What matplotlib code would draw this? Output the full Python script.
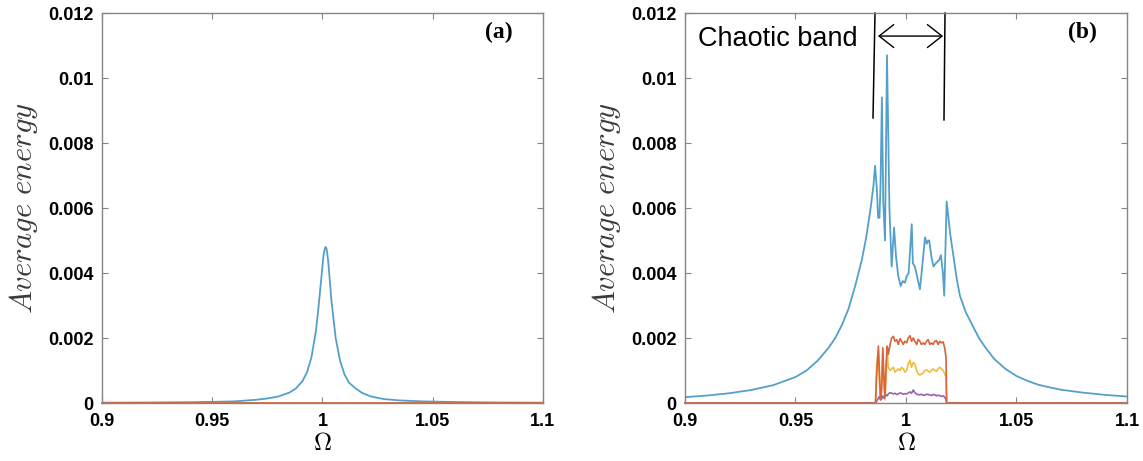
import matplotlib
matplotlib.use('Agg')
import matplotlib.pyplot as plt

plt.rcParams['mathtext.fontset'] = 'cm'
plt.rcParams['font.family'] = ['Liberation Sans', 'DejaVu Sans']

# ---- (a) below the chaotic threshold: single resonance peak ----
om_a = [0.90, 0.92, 0.94, 0.95, 0.96, 0.97, 0.975, 0.98, 0.985, 0.988, 0.991,
        0.993, 0.995, 0.997, 0.998, 0.999, 1.000, 1.0005, 1.001, 1.0014, 1.0018,
        1.0022, 1.0027, 1.0033, 1.004, 1.005, 1.006, 1.008, 1.010, 1.012, 1.015,
        1.018, 1.022, 1.028, 1.035, 1.045, 1.06, 1.08, 1.10]
en_a = [0.00001, 0.000015, 0.000025, 0.000035, 0.00005, 0.0001, 0.00014, 0.0002,
        0.00032, 0.00045, 0.00068, 0.00095, 0.0014, 0.0022, 0.0028, 0.0035,
        0.0042, 0.00455, 0.00473, 0.0048, 0.00476, 0.0046, 0.0043, 0.0038,
        0.0032, 0.0026, 0.002, 0.0013, 0.00088, 0.00063, 0.00045, 0.00031,
        0.0002, 0.00012, 0.00008, 0.00005, 0.00003, 0.000015, 0.00001]
om_a_zero = [0.9, 1.1]
en_a_zero = [0, 0]

# ---- (b) above threshold: blue mode plus three modes inside the band ----
om_b = [0.90, 0.91, 0.92, 0.93, 0.94, 0.95, 0.955, 0.96, 0.965, 0.968, 0.971,
        0.974, 0.977, 0.980, 0.982, 0.984, 0.9853, 0.9860, 0.9868, 0.9874,
        0.9880, 0.9885, 0.9891, 0.9897, 0.9905, 0.9914, 0.9925, 0.9935, 0.9946,
        0.9955, 0.9965, 0.9976, 0.9985, 0.9995, 1.0003, 1.0012, 1.0026, 1.0031,
        1.0040, 1.0050, 1.0063, 1.0075, 1.0086, 1.0094, 1.0100, 1.0105, 1.0115,
        1.0124, 1.0135, 1.0150, 1.0158, 1.0167, 1.0173, 1.0184, 1.0192, 1.0200,
        1.0213, 1.023, 1.0244, 1.027, 1.030, 1.033, 1.036, 1.040, 1.045, 1.050,
        1.055, 1.060, 1.065, 1.070, 1.080, 1.090, 1.100]
en_b = [0.00018, 0.00023, 0.0003, 0.0004, 0.00055, 0.0008, 0.001, 0.0013,
        0.0017, 0.002, 0.0024, 0.0029, 0.0036, 0.0044, 0.0051, 0.006, 0.0067,
        0.0073, 0.0066, 0.0057, 0.0057, 0.0068, 0.0094, 0.0062, 0.0050, 0.0107,
        0.0060, 0.0042, 0.0054, 0.0045, 0.0039, 0.0036, 0.00375, 0.0037, 0.0039,
        0.0040, 0.0055, 0.0043, 0.0042, 0.0039, 0.0035, 0.0043, 0.0051, 0.0049,
        0.0050, 0.0050, 0.0045, 0.0042, 0.0043, 0.0044, 0.00455, 0.0040, 0.0033,
        0.0062, 0.0057, 0.0052, 0.0046, 0.0038, 0.0033, 0.0028, 0.0024, 0.0020,
        0.0017, 0.00135, 0.00105, 0.00083, 0.00068, 0.00056, 0.00048, 0.00041,
        0.00032, 0.00025, 0.0002]

om_band = [0.9, 0.9862, 0.9867, 0.9875, 0.9880, 0.9885, 0.9890, 0.9895, 0.9900,
           0.9905, 0.9910, 0.9915, 0.9920, 0.9928, 0.9935, 0.9943, 0.9950, 0.9958,
           0.9965, 0.9973, 0.9980, 0.9988, 0.9995, 1.0003, 1.0010, 1.0018, 1.0025,
           1.0033, 1.0040, 1.0048, 1.0055, 1.0063, 1.0070, 1.0078, 1.0085, 1.0093,
           1.0100, 1.0108, 1.0115, 1.0123, 1.0130, 1.0138, 1.0145, 1.0153, 1.0160,
           1.0168, 1.0175, 1.0181, 1.0184, 1.1]
en_red = [0, 0, 0.0008, 0.00175, 0.0009, 0.0001, 0.0004, 0.0017, 0.0008, 0.0002,
          0.0012, 0.00175, 0.0015, 0.0018, 0.0020, 0.00205, 0.0019, 0.00195,
          0.0018, 0.00198, 0.0019, 0.0018, 0.0019, 0.00185, 0.0020, 0.00207,
          0.0019, 0.0020, 0.0019, 0.0018, 0.00196, 0.0019, 0.0018, 0.00185,
          0.0018, 0.0019, 0.00195, 0.0018, 0.00185, 0.0018, 0.0019, 0.00192,
          0.0018, 0.0019, 0.00185, 0.00188, 0.0017, 0.0014, 0, 0]
en_yel = [0, 0, 0.0012, 0.0016, 0.0006, 0.0001, 0.0008, 0.0016, 0.0005, 0.0001,
          0.0009, 0.0016, 0.0011, 0.0010, 0.00105, 0.0011, 0.00095, 0.0010,
          0.00105, 0.0010, 0.0011, 0.00105, 0.00095, 0.0010, 0.0012, 0.00132,
          0.0011, 0.00125, 0.0012, 0.0010, 0.0009, 0.00086, 0.0009, 0.00092,
          0.0010, 0.00102, 0.00098, 0.00095, 0.0010, 0.00105, 0.0010, 0.00098,
          0.00105, 0.0011, 0.00105, 0.0010, 0.0009, 0.0008, 0, 0]
en_pur = [0, 0, 0.00005, 0.00015, 0.0002, 0.0001, 0.00012, 0.00022, 0.00015,
          0.0002, 0.00025, 0.00022, 0.00028, 0.00032, 0.0003, 0.00028, 0.0003,
          0.00026, 0.00028, 0.00031, 0.0003, 0.00027, 0.00029, 0.00028, 0.00031,
          0.00034, 0.0003, 0.0004, 0.00032, 0.00027, 0.00026, 0.00025, 0.00027,
          0.00024, 0.00024, 0.00027, 0.00026, 0.00025, 0.00023, 0.00026, 0.00025,
          0.00022, 0.00024, 0.00023, 0.0002, 0.00022, 0.00018, 0.0001, 0, 0]

xticks = [0.9, 0.95, 1.0, 1.05, 1.1]
xtick_labels = ['0.9', '0.95', '1', '1.05', '1.1']
yticks = [0, 0.002, 0.004, 0.006, 0.008, 0.01, 0.012]
ytick_labels = ['0', '0.002', '0.004', '0.006', '0.008', '0.01', '0.012']

c_blue = '#54a0ca'
c_red = '#d9643a'
c_yel = '#efbd3c'
c_pur = '#9a62ae'
c_axis = '#858585'


def style_axes(ax, tag):
    ax.set_xlim(0.9, 1.1)
    ax.set_ylim(0, 0.012)
    ax.set_xticks(xticks)
    ax.set_xticklabels(xtick_labels)
    ax.set_yticks(yticks)
    ax.set_yticklabels(ytick_labels)
    for lab in ax.get_xticklabels() + ax.get_yticklabels():
        lab.set_fontweight('bold')
        lab.set_fontsize(13)
    ax.tick_params(direction='in', top=True, right=True, length=4,
                   width=0.8, color=c_axis)
    ax.tick_params(axis='x', pad=7)
    ax.tick_params(axis='y', pad=6)
    for sp in ax.spines.values():
        sp.set_color(c_axis)
        sp.set_linewidth(1.0)
    ax.set_xlabel(r'$\Omega$', fontsize=18, labelpad=1)
    ax.set_ylabel(r'$Average\ energy$', fontsize=22, color='#3a3a3a', labelpad=6)
    ax.text(0.9, 0.95, tag, transform=ax.transAxes, ha='center', va='center',
            fontsize=17, fontweight='bold', family='Liberation Serif')


fig = plt.figure(figsize=(11.43, 4.61), dpi=100)
ax1 = fig.add_axes([0.0892, 0.1258, 0.3858, 0.846])
ax2 = fig.add_axes([0.5993, 0.1258, 0.3867, 0.846])

ax1.plot(om_a, en_a, color=c_blue, lw=1.3)
ax1.plot(om_a_zero, en_a_zero, color=c_red, lw=1.3, clip_on=False)
style_axes(ax1, '(a)')

ax2.plot(om_b, en_b, color=c_blue, lw=1.3)
ax2.plot(om_band, en_yel, color=c_yel, lw=1.2, clip_on=False)
ax2.plot(om_band, en_pur, color=c_pur, lw=1.2, clip_on=False)
ax2.plot(om_band, en_red, color=c_red, lw=1.2, clip_on=False)
style_axes(ax2, '(b)')

# chaotic band markers
ax2.plot([0.98507, 0.98597], [0.00877, 0.0120], color='black', lw=1.1, clip_on=False)
ax2.plot([1.01719, 1.01765], [0.00871, 0.0120], color='black', lw=1.1, clip_on=False)
ax2.annotate('', xy=(1.0168, 0.01129), xytext=(0.98733, 0.01129),
             arrowprops=dict(arrowstyle='<->,head_length=0.7,head_width=0.55',
                             color='black', lw=1.0, mutation_scale=15,
                             shrinkA=0, shrinkB=0))
ax2.text(0.9058, 0.0112, 'Chaotic band', fontsize=19.5, ha='left', va='center')

fig.savefig('out.png', dpi=100)
